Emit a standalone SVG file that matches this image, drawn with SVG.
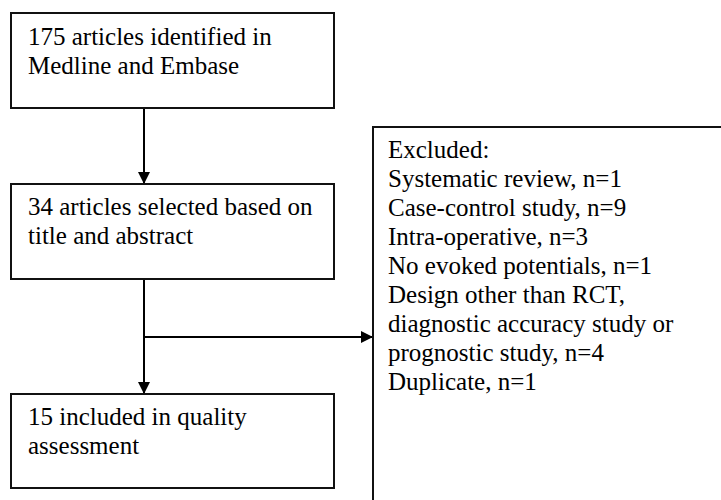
<svg xmlns="http://www.w3.org/2000/svg" width="721" height="500" viewBox="0 0 721 500">
<style>
.box{fill:#fff;stroke:#111;stroke-width:2}
.t{font-family:'Liberation Serif',Tinos,'Times New Roman',Times,'DejaVu Serif',serif;font-size:25px;fill:#000}
.ln{stroke:#000;stroke-width:2;fill:none}
</style>
<defs>
<marker id="ah" viewBox="0 0 12 12" refX="12" refY="6" markerWidth="12" markerHeight="12" markerUnits="userSpaceOnUse" orient="auto">
<path d="M0,0 L12,6 L0,12 Z" fill="#000"/>
</marker>
</defs>
<rect width="721" height="500" fill="#fff"/>
<g id="connectors">
<line class="ln" x1="144" y1="108" x2="144" y2="184" marker-end="url(#ah)"/>
<line class="ln" x1="144" y1="279" x2="144" y2="394" marker-end="url(#ah)"/>
<line class="ln" x1="144" y1="337" x2="373" y2="337" marker-end="url(#ah)"/>
</g>
<g id="node1">
<rect class="box" x="11" y="13" width="323" height="95"/>
<text class="t" font-family="Liberation Serif, serif" x="28" y="45">175 articles identified in</text>
<text class="t" font-family="Liberation Serif, serif" x="28" y="74">Medline and Embase</text>
</g>
<g id="node2">
<rect class="box" x="11" y="184" width="323" height="95"/>
<text class="t" x="28" y="215">34 articles selected based on</text>
<text class="t" x="28" y="244">title and abstract</text>
</g>
<g id="node3">
<rect class="box" x="11" y="394" width="323" height="94"/>
<text class="t" x="28" y="425">15 included in quality</text>
<text class="t" x="28" y="454">assessment</text>
</g>
<g id="excluded">
<rect class="box" x="373" y="127" width="380" height="400"/>
<text class="t" x="388" y="158">Excluded:</text>
<text class="t" x="388" y="187">Systematic review, n=1</text>
<text class="t" x="388" y="216">Case-control study, n=9</text>
<text class="t" x="388" y="245">Intra-operative, n=3</text>
<text class="t" x="388" y="274">No evoked potentials, n=1</text>
<text class="t" x="388" y="303">Design other than RCT,</text>
<text class="t" x="388" y="332">diagnostic accuracy study or</text>
<text class="t" x="388" y="361">prognostic study, n=4</text>
<text class="t" x="388" y="390">Duplicate, n=1</text>
</g>
</svg>
